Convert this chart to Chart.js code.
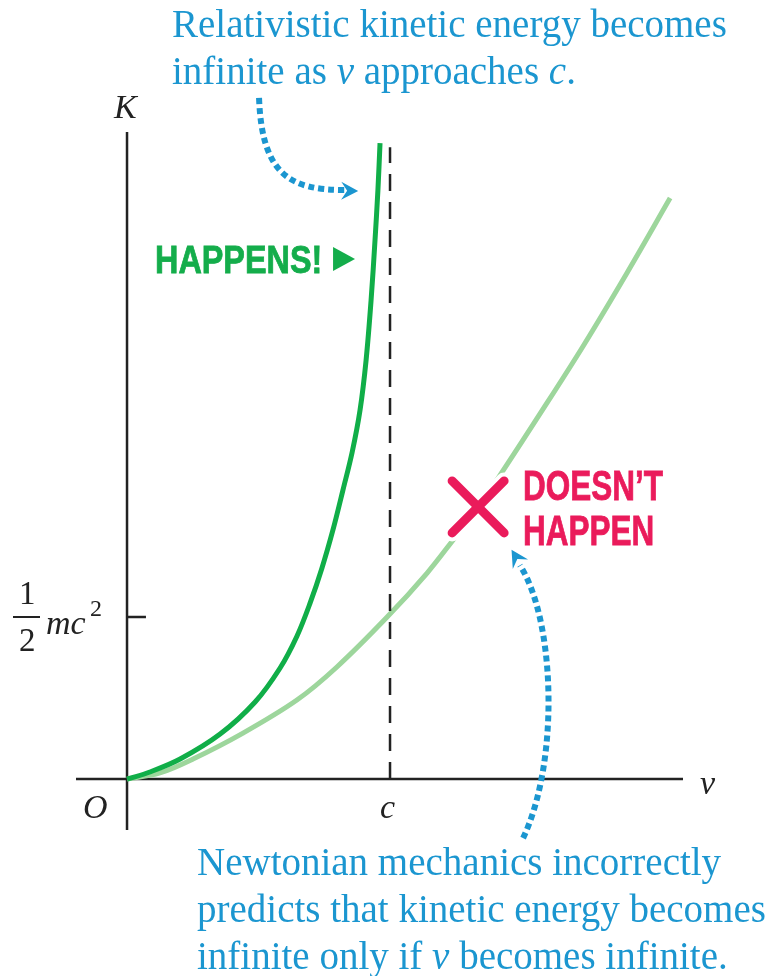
<!DOCTYPE html>
<html>
<head>
<meta charset="utf-8">
<script src="https://cdn.jsdelivr.net/npm/chart.js@4.4.1/dist/chart.umd.min.js"></script>
<style>
  body { margin: 0; background: #fff; }
  #wrap { position: relative; width: 767px; height: 976px; overflow: hidden; }
  #chart { position: absolute; left: 0; top: 0; }
  .note { position: absolute; font-family: "Liberation Serif", "DejaVu Serif", serif; color: #1b96d0; font-size: 39px; line-height: 47px; white-space: nowrap; }
  .lbl { position: absolute; font-family: "Liberation Serif", serif; font-style: italic; color: #222; font-size: 34px; line-height: 34px; white-space: nowrap; }
  .num { position: absolute; font-family: "Liberation Serif", serif; color: #222; font-size: 33px; line-height: 33px; }
  .big { position: absolute; font-family: "Liberation Sans", Arial, sans-serif; font-weight: bold; white-space: nowrap; transform-origin: left top; }
  .bar { position: absolute; height: 2px; background: #222; }
</style>
</head>
<body>
<div id="wrap">
  <canvas id="chart" width="767" height="976"></canvas>

  <div class="note" style="left:172px; top:0px;">Relativistic kinetic energy becomes<br>infinite as <i>v</i> approaches <i>c</i>.</div>
  <div class="note" style="left:197px; top:838px;">Newtonian mechanics incorrectly<br>predicts that kinetic energy becomes<br>infinite only if <i>v</i> becomes infinite.</div>

  <div class="big" style="left:155px; top:240px; font-size:39px; line-height:39px; color:#14ad4b; transform:scaleX(0.83); -webkit-text-stroke:0.8px #14ad4b;">HAPPENS!</div>
  <div class="big" style="left:523px; top:463px; font-size:42px; line-height:45px; color:#ea1b5b; transform:scaleX(0.75); -webkit-text-stroke:0.8px #ea1b5b;">DOESN’T<br>HAPPEN</div>

  <div class="lbl" style="left:114px; top:90px;">K</div>
  <div class="lbl" style="left:700px; top:766px;">v</div>
  <div class="lbl" style="left:83px; top:790px;">O</div>
  <div class="lbl" style="left:380px; top:790px;">c</div>
  <div class="num" style="left:19px; top:577px;">1</div>
  <div class="bar" style="left:13px; top:616px; width:27px;"></div>
  <div class="num" style="left:19px; top:624px;">2</div>
  <div class="lbl" style="left:46px; top:606px;">mc</div>
  <div class="num" style="left:90px; top:596px; font-size:24px; line-height:24px;">2</div>
</div>

<script>
// speed in units of c, kinetic energy in units of mc^2
const relV = [0, 0.087, 0.202, 0.354, 0.487, 0.582, 0.646, 0.696, 0.741, 0.783, 0.821, 0.856, 0.886, 0.909, 0.928, 0.943, 0.954, 0.962];
const relK = [0, 0.022, 0.062, 0.139, 0.238, 0.343, 0.441, 0.543, 0.651, 0.769, 0.892, 1.009, 1.139, 1.293, 1.478, 1.664, 1.818, 1.963];
const newtV = [0, 0.125, 0.251, 0.441, 0.646, 0.798, 0.989, 1.141, 1.240, 1.335, 1.411, 1.570, 1.734, 1.901, 2.065];
const newtK = [0, 0.019, 0.062, 0.142, 0.244, 0.346, 0.500, 0.636, 0.738, 0.840, 0.929, 1.127, 1.336, 1.562, 1.793];
const cLineV = [1, 1];
const cLineK = [0, 1.95];
const halfTick = 0.5;

const toPts = (xs, ys) => xs.map((x, i) => ({ x: x, y: ys[i] }));

const BLUE = '#1b96d0';
const RED = '#ea1b5b';

// axes, tick, dotted arrows and the X mark
const decor = {
    id: 'decor',
    beforeDatasetsDraw(chart) {
        const ctx = chart.ctx;
        const xs = chart.scales.x, ys = chart.scales.y;
        const x0 = xs.getPixelForValue(0), y0 = ys.getPixelForValue(0);
        ctx.save();
        ctx.strokeStyle = '#222';
        ctx.lineWidth = 2.5;
        ctx.beginPath();
        ctx.moveTo(chart.chartArea.left, y0);
        ctx.lineTo(chart.chartArea.right, y0);
        ctx.moveTo(x0, chart.chartArea.top);
        ctx.lineTo(x0, chart.chartArea.bottom);
        const yh = ys.getPixelForValue(halfTick);
        ctx.moveTo(x0, yh);
        ctx.lineTo(xs.getPixelForValue(0.072), yh);
        ctx.stroke();
        ctx.restore();
    },
    afterDatasetsDraw(chart) {
        const ctx = chart.ctx;
        const xs = chart.scales.x, ys = chart.scales.y;
        const P = (v, k) => [xs.getPixelForValue(v), ys.getPixelForValue(k)];

        function dotted(pts, tip) {
            ctx.save();
            ctx.strokeStyle = BLUE;
            ctx.lineWidth = 6;
            ctx.setLineDash([6, 4]);
            ctx.lineCap = 'butt';
            const p = pts.map(q => P(q[0], q[1]));
            ctx.beginPath();
            ctx.moveTo(p[0][0], p[0][1]);
            ctx.bezierCurveTo(p[1][0], p[1][1], p[2][0], p[2][1], p[3][0], p[3][1]);
            ctx.stroke();
            // arrow head
            const t = P(tip[0], tip[1]);
            const dx = t[0] - p[2][0], dy = t[1] - p[2][1];
            const L = Math.hypot(dx, dy), ux = dx / L, uy = dy / L;
            const nx = -uy, ny = ux;
            const len = 17, w = 9;
            ctx.setLineDash([]);
            ctx.fillStyle = BLUE;
            ctx.beginPath();
            ctx.moveTo(t[0], t[1]);
            ctx.lineTo(t[0] - ux * len + nx * w, t[1] - uy * len + ny * w);
            ctx.lineTo(t[0] - ux * len * 0.65, t[1] - uy * len * 0.65);
            ctx.lineTo(t[0] - ux * len - nx * w, t[1] - uy * len - ny * w);
            ctx.closePath();
            ctx.fill();
            ctx.restore();
        }
        dotted([[0.502, 2.102], [0.513, 1.864], [0.620, 1.818], [0.829, 1.818]], [0.879, 1.815]);
        dotted([[1.506, -0.182], [1.646, 0.059], [1.627, 0.491], [1.494, 0.660]], [1.462, 0.708]);

        // X mark on the Newtonian curve
        const c = P(1.335, 0.840);
        const a = 26;
        ctx.save();
        ctx.lineCap = 'round';
        ctx.strokeStyle = '#fff';
        ctx.lineWidth = 17;
        ctx.beginPath();
        ctx.moveTo(c[0] - a, c[1] - a); ctx.lineTo(c[0] + a, c[1] + a);
        ctx.moveTo(c[0] + a, c[1] - a); ctx.lineTo(c[0] - a, c[1] + a);
        ctx.stroke();
        ctx.strokeStyle = RED;
        ctx.lineWidth = 9;
        ctx.stroke();
        ctx.restore();

        // triangle after HAPPENS!
        const tr = P(0.867, 1.605);
        ctx.save();
        ctx.fillStyle = '#14ad4b';
        ctx.beginPath();
        ctx.moveTo(tr[0] - 22, tr[1] - 12);
        ctx.lineTo(tr[0], tr[1]);
        ctx.lineTo(tr[0] - 22, tr[1] + 12);
        ctx.closePath();
        ctx.fill();
        ctx.restore();
    }
};

new Chart(document.getElementById('chart'), {
    type: 'scatter',
    data: {
        datasets: [
            {
                label: 'v = c',
                data: toPts(cLineV, cLineK),
                showLine: true,
                borderColor: '#222',
                borderWidth: 2.5,
                borderDash: [17, 11],
                pointRadius: 0
            },
            {
                label: 'Relativistic',
                data: toPts(relV, relK),
                showLine: true,
                borderColor: '#10ae48',
                borderWidth: 5,
                tension: 0.35,
                pointRadius: 0
            },
            {
                label: 'Newtonian',
                data: toPts(newtV, newtK),
                showLine: true,
                borderColor: '#9dd69c',
                borderWidth: 5,
                tension: 0.35,
                pointRadius: 0
            }
        ]
    },
    options: {
        responsive: false,
        animation: false,
        clip: false,
        layout: { padding: { left: 76, right: 84, top: 132, bottom: 146 } },
        scales: {
            x: { type: 'linear', min: -0.194, max: 2.114, display: false },
            y: { type: 'linear', min: -0.157, max: 1.997, display: false }
        },
        plugins: {
            legend: { display: false },
            tooltip: { enabled: false }
        }
    },
    plugins: [decor]
});
</script>
</body>
</html>
